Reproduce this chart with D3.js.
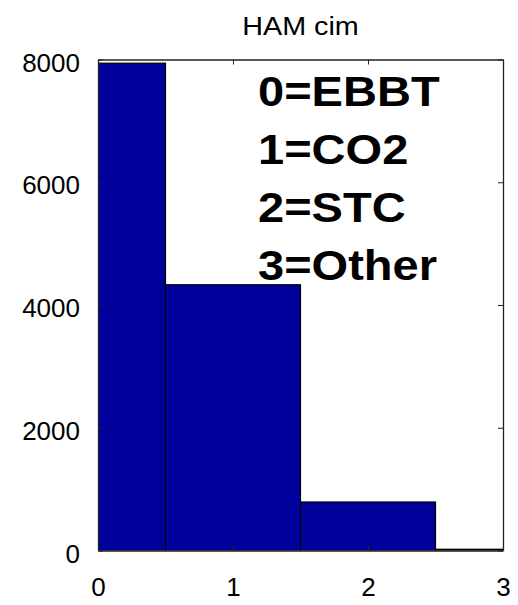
<!DOCTYPE html>
<html>
<head>
<meta charset="utf-8">
<script src="https://cdn.jsdelivr.net/npm/d3@7"></script>
<style>
  body { margin: 0; background: #fff; }
  text { font-family: "Liberation Sans", Arial, Helvetica, sans-serif; }
</style>
</head>
<body>
<div id="chart"></div>
<script>
// histogram of classes
const binCenters = [0, 1, 2, 3];
const binCounts = [7940, 4330, 790, 20];
const yTicks = [0, 2000, 4000, 6000, 8000];
const xTicks = [0, 1, 2, 3];
const legendLines = ["0=EBBT", "1=CO2", "2=STC", "3=Other"];
const titleText = "HAM cim";

const canvasWidth = 518;
const canvasHeight = 605;
const plot = { left: 98, right: 503, top: 59.5, bottom: 550.5 };

const svg = d3.select("#chart")
    .append("svg")
    .attr("width", canvasWidth)
    .attr("height", canvasHeight);

const xScale = d3.scaleLinear().domain([0, 3]).range([plot.left, plot.right]);
const yScale = d3.scaleLinear().domain([0, 8000]).range([plot.bottom, plot.top]);

svg.append("clipPath")
    .attr("id", "plot-clip")
    .append("rect")
    .attr("x", plot.left)
    .attr("y", plot.top)
    .attr("width", plot.right - plot.left)
    .attr("height", plot.bottom - plot.top);

// bars
svg.append("g")
    .attr("clip-path", "url(#plot-clip)")
    .selectAll("rect")
    .data(binCenters)
    .enter()
    .append("rect")
    .attr("x", (d) => xScale(d - 0.5))
    .attr("y", (d, i) => yScale(binCounts[i]))
    .attr("width", (d) => xScale(d + 0.5) - xScale(d - 0.5))
    .attr("height", (d, i) => yScale(0) - yScale(binCounts[i]))
    .attr("fill", "#00009c")
    .attr("stroke", "#000")
    .attr("stroke-width", 1.2);

// axes box, ticks inward on every side
const tickLen = 5;
const axisColor = "#222";
const plain = d3.format("d");

const bottomAxis = d3.axisBottom(xScale).tickValues(xTicks).tickFormat(plain).tickSizeInner(-tickLen).tickSizeOuter(0).tickPadding(27);
const topAxis = d3.axisTop(xScale).tickValues(xTicks).tickSizeInner(-tickLen).tickSizeOuter(0).tickFormat("");
const leftAxis = d3.axisLeft(yScale).tickValues(yTicks).tickFormat(plain).tickSizeInner(-tickLen).tickSizeOuter(0).tickPadding(18);
const rightAxis = d3.axisRight(yScale).tickValues(yTicks).tickSizeInner(-tickLen).tickSizeOuter(0).tickFormat("");

const styleAxis = (g) => {
    g.select(".domain").attr("stroke", axisColor).attr("stroke-width", 1.3);
    g.selectAll(".tick line").attr("stroke", axisColor);
    g.selectAll(".tick text")
        .attr("fill", "#000")
        .attr("font-size", 26)
        .attr("font-family", "Liberation Sans, Arial, sans-serif");
};

svg.append("g").attr("transform", `translate(0,${plot.bottom})`).call(bottomAxis).call(styleAxis);
svg.append("g").attr("transform", `translate(0,${plot.top})`).call(topAxis).call(styleAxis);
svg.append("g").attr("transform", `translate(${plot.left},0)`).call(leftAxis).call(styleAxis)
    .selectAll(".tick text").attr("dy", "0.45em");
svg.append("g").attr("transform", `translate(${plot.right},0)`).call(rightAxis).call(styleAxis);

// title
svg.append("text")
    .attr("transform", `translate(${(plot.left + plot.right) / 2},35) scale(1.15,1)`)
    .attr("text-anchor", "middle")
    .attr("font-size", 25)
    .attr("fill", "#000")
    .text(titleText);

// legend text
svg.append("g")
    .selectAll("text")
    .data(legendLines)
    .enter()
    .append("text")
    .attr("transform", (d, i) => `translate(258,${106 + i * 58}) scale(1.12,1)`)
    .attr("font-size", 42)
    .attr("font-weight", "bold")
    .attr("fill", "#000")
    .text((d) => d);
</script>
</body>
</html>
